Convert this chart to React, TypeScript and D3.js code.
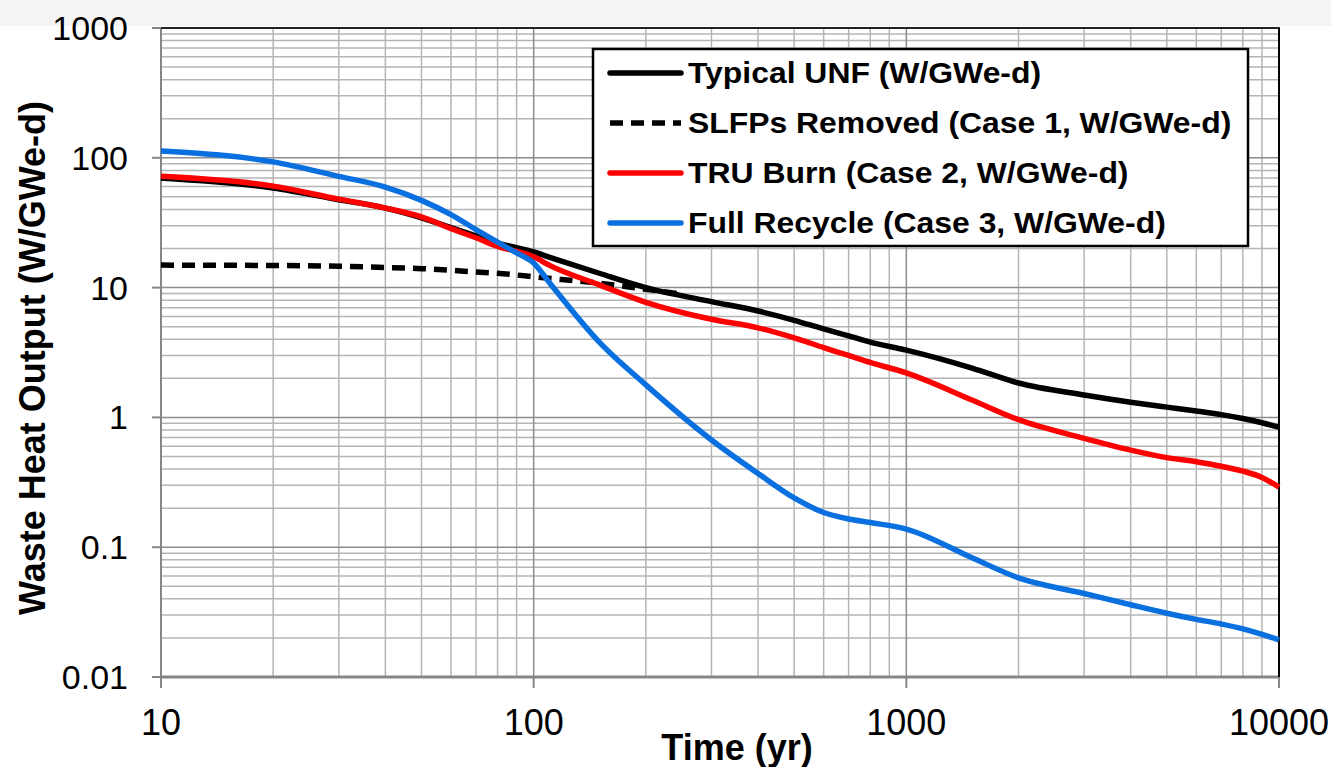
import React from "react";
import * as d3 from "d3";

const years = [10, 20, 30, 40, 50, 60, 70, 80, 90, 100, 110, 150, 200, 300, 400, 500, 600, 700, 800, 1000, 1500, 2000, 3000, 4000, 5000, 6000, 7000, 8000, 9000, 10000];
const typicalUNF = [70, 58.5, 47.5, 41, 34.5, 29, 25, 22, 20.3, 18.8, 17.2, 12.9, 10, 7.8, 6.6, 5.6, 4.8, 4.25, 3.8, 3.3, 2.4, 1.84, 1.49, 1.31, 1.2, 1.12, 1.05, 0.98, 0.91, 0.84];
const truBurn = [72, 60.5, 48, 41, 35, 28.5, 24.2, 20.8, 19, 17.3, 14.9, 10.5, 7.7, 5.7, 4.9, 4.1, 3.45, 3.0, 2.65, 2.2, 1.36, 0.96, 0.69, 0.56, 0.49, 0.455, 0.42, 0.385, 0.345, 0.29];
const fullRecycle = [113, 93, 72, 59.5, 47, 36.5, 28, 22.4, 18.5, 15.5, 11, 3.8, 1.78, 0.67, 0.37, 0.24, 0.185, 0.165, 0.155, 0.138, 0.083, 0.058, 0.044, 0.036, 0.031, 0.0278, 0.0256, 0.0235, 0.0213, 0.0193];
const slfpYears = [10, 20, 30, 40, 50, 60, 70, 80, 90, 100, 150, 200, 250];
const slfpRemoved = [14.9, 14.8, 14.6, 14.3, 14.0, 13.6, 13.2, 12.9, 12.5, 12.1, 10.8, 9.7, 8.9];

const xTicks = [10, 100, 1000, 10000];
const xTickLabels = ["10", "100", "1000", "10000"];
const yTicks = [0.01, 0.1, 1, 10, 100, 1000];
const yTickLabels = ["0.01", "0.1", "1", "10", "100", "1000"];

const legendLabels = [
  "Typical UNF (W/GWe-d)",
  "SLFPs Removed (Case 1, W/GWe-d)",
  "TRU Burn (Case 2, W/GWe-d)",
  "Full Recycle (Case 3, W/GWe-d)",
];

const FONT = "'Liberation Sans', Arial, Helvetica, sans-serif";

export default function App() {
  const W = 1331, H = 767;
  const x = d3.scaleLog().domain([10, 10000]).range([161, 1279]);
  const y = d3.scaleLog().domain([0.01, 1000]).range([677, 28]);

  const minorX: number[] = [];
  for (let d = 10; d < 10000; d *= 10) for (let k = 2; k <= 9; k++) minorX.push(d * k);
  const minorY: number[] = [];
  for (let d = 0.01; d < 999; d *= 10) for (let k = 2; k <= 9; k++) minorY.push(d * k);

  const line = d3
    .line<[number, number]>()
    .x((d) => x(d[0]))
    .y((d) => y(d[1]))
    .curve(d3.curveMonotoneX);

  const series = [
    { data: years.map((t, i) => [t, typicalUNF[i]] as [number, number]), color: "#000000", dash: null as string | null },
    { data: slfpYears.map((t, i) => [t, slfpRemoved[i]] as [number, number]), color: "#000000", dash: "13 8" },
    { data: years.map((t, i) => [t, truBurn[i]] as [number, number]), color: "#ff0000", dash: null },
    { data: years.map((t, i) => [t, fullRecycle[i]] as [number, number]), color: "#0a70e0", dash: null },
  ];
  const drawOrder = [1, 0, 2, 3];

  const [x0, x1] = x.range();
  const [y0, y1] = y.range();

  const legendRowsY = [73, 123, 173, 223];

  return (
    <svg width={W} height={H} style={{ position: "absolute", left: 0, top: 0, background: "#fff" }}>
      <rect x={0} y={0} width={W} height={H} fill="#ffffff" />
      <rect x={0} y={0} width={W} height={26} fill="#f4f4f4" />

      {/* minor grid */}
      {minorX.map((v) => (
        <line key={"mx" + v} x1={x(v)} x2={x(v)} y1={y1} y2={y0} stroke="#b5b5b5" strokeWidth={1.5} />
      ))}
      {minorY.map((v) => (
        <line key={"my" + v} x1={x0} x2={x1} y1={y(v)} y2={y(v)} stroke="#b5b5b5" strokeWidth={1.5} />
      ))}
      {/* major grid */}
      {xTicks.map((v) => (
        <line key={"Mx" + v} x1={x(v)} x2={x(v)} y1={y1} y2={y0} stroke="#8c8c8c" strokeWidth={1.5} />
      ))}
      {yTicks.map((v) => (
        <line key={"My" + v} x1={x0} x2={x1} y1={y(v)} y2={y(v)} stroke="#8c8c8c" strokeWidth={1.5} />
      ))}

      {/* axes */}
      <line x1={x0} x2={x0} y1={y1} y2={y0} stroke="#868686" strokeWidth={2} />
      <line x1={x0 - 1} x2={x1} y1={y0} y2={y0} stroke="#868686" strokeWidth={3} />
      <line x1={x0 - 9} x2={x1 + 1} y1={y1} y2={y1} stroke="#222" strokeWidth={2} />
      <line x1={x1} x2={x1} y1={y1} y2={y0} stroke="#000" strokeWidth={2} />
      {yTicks.map((v) => (
        <line key={"yt" + v} x1={x0 - 9} x2={x0} y1={y(v)} y2={y(v)} stroke="#868686" strokeWidth={2} />
      ))}
      {xTicks.map((v) => (
        <line key={"xt" + v} x1={x(v)} x2={x(v)} y1={y0} y2={y0 + 11} stroke="#868686" strokeWidth={2} />
      ))}

      {/* series */}
      {drawOrder.map((i) => {
        const s = series[i];
        return (
          <path
            key={"s" + i}
            d={line(s.data) || ""}
            fill="none"
            stroke={s.color}
            strokeWidth={5.5}
            strokeDasharray={s.dash || undefined}
            strokeLinejoin="round"
          />
        );
      })}

      {/* tick labels */}
      {yTicks.map((v, i) => (
        <text key={"yl" + v} x={128} y={y(v) + 12} textAnchor="end" fontFamily={FONT} fontSize={34} fill="#000">
          {yTickLabels[i]}
        </text>
      ))}
      {xTicks.map((v, i) => (
        <text key={"xl" + v} x={x(v)} y={735} textAnchor="middle" fontFamily={FONT} fontSize={36} fill="#000">
          {xTickLabels[i]}
        </text>
      ))}

      {/* axis titles */}
      <text x={737} y={760} textAnchor="middle" fontFamily={FONT} fontSize={36} fontWeight="bold" fill="#000">
        Time (yr)
      </text>
      <text
        transform={`translate(45,358) rotate(-90)`}
        textAnchor="middle"
        fontFamily={FONT}
        fontSize={36}
        fontWeight="bold"
        fill="#000"
      >
        Waste Heat Output (W/GWe-d)
      </text>

      {/* legend */}
      <rect x={593} y={49} width={655} height={197} fill="#fff" stroke="#000" strokeWidth={2.5} />
      {legendLabels.map((lab, i) => {
        const s = series[i];
        const ly = legendRowsY[i];
        return (
          <g key={"lg" + i}>
            <line
              x1={610}
              x2={681}
              y1={ly}
              y2={ly}
              stroke={s.color}
              strokeWidth={5.5}
              strokeLinecap={s.dash ? "butt" : "round"}
              strokeDasharray={s.dash || undefined}
            />
            <text
              transform={`translate(688,${ly + 10}) scale(1.1,1)`}
              fontFamily={FONT}
              fontSize={29}
              fontWeight="bold"
              fill="#000"
            >
              {lab}
            </text>
          </g>
        );
      })}
    </svg>
  );
}
